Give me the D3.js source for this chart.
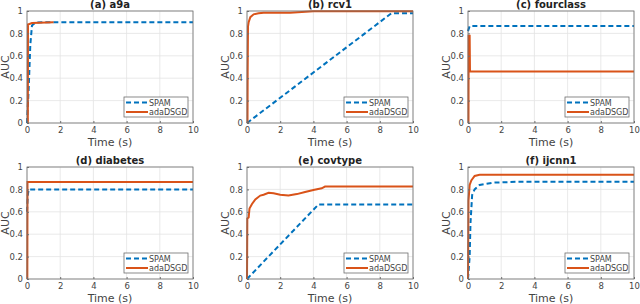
<!DOCTYPE html>
<html>
<head>
<meta charset="utf-8">
<script src="https://cdn.jsdelivr.net/npm/d3@7"></script>
<style>
body{margin:0;background:#fff;}
text{font-family:"DejaVu Sans",sans-serif;}
</style>
</head>
<body>
<script>
// values: [time (s), AUC]
const titles = ["(a) a9a","(b) rcv1","(c) fourclass","(d) diabetes","(e) covtype","(f) ijcnn1"]
const seriesNames = ["SPAM","adaDSGD"]
const xTicks = [0,2,4,6,8,10]
const yTicks = [0,0.2,0.4,0.6,0.8,1]

const a9aSPAM = [[0,0],[0.1,0.3],[0.2,0.7],[0.3,0.87],[0.5,0.895],[1,0.9],[10,0.9]]
const a9aAda = [[0.05,0],[0.06,0.88],[0.3,0.893],[1.6,0.9]]
const rcv1SPAM = [[0,0],[8.7,0.98],[10,0.98]]
const rcv1Ada = [[0.03,0],[0.04,0.45],[0.06,0.86],[0.1,0.9],[0.2,0.945],[0.4,0.97],[0.7,0.98],[1,0.985],[2.6,0.985],[4,0.997],[10,0.997]]
const fourclassSPAM = [[0,0.82],[0.1,0.865],[10,0.865]]
const fourclassAda = [[0.03,0],[0.04,0.78],[0.1,0.78],[0.12,0.46],[10,0.46]]
const diabetesSPAM = [[0,0.6],[0.05,0.75],[0.1,0.8],[10,0.8]]
const diabetesAda = [[0.02,0],[0.03,0.865],[10,0.865]]
const covtypeSPAM = [[0,0],[4.3,0.665],[10,0.665]]
const covtypeAda = [[0,0],[0.02,0.54],[0.1,0.55],[0.15,0.63],[0.3,0.67],[0.5,0.71],[0.8,0.745],[1,0.752],[1.3,0.77],[1.6,0.765],[2,0.752],[2.5,0.745],[3,0.758],[3.5,0.777],[4,0.795],[4.5,0.81],[4.7,0.825],[10,0.825]]
const ijcnn1SPAM = [[0,0],[0.1,0.2],[0.15,0.5],[0.25,0.75],[0.4,0.8],[0.7,0.84],[1.5,0.86],[3,0.868],[10,0.868]]
const ijcnn1Ada = [[0,0],[0.03,0.7],[0.1,0.84],[0.2,0.88],[0.4,0.92],[0.7,0.93],[10,0.93]]

const panels = [
    [a9aSPAM,a9aAda],[rcv1SPAM,rcv1Ada],[fourclassSPAM,fourclassAda],
    [diabetesSPAM,diabetesAda],[covtypeSPAM,covtypeAda],[ijcnn1SPAM,ijcnn1Ada]
]
const colors = ["#0072BD","#D95319"]

const width = 640, height = 304
const svg = d3.select("body").append("svg").attr("width",width).attr("height",height)

const colX = [27,247,468], rowY = [11,167]
const pw = 166, ph = 112

panels.forEach((series,i)=>{
    const g = svg.append("g").attr("transform",`translate(${colX[i%3]},${rowY[Math.floor(i/3)]})`)
    const x = d3.scaleLinear().domain([0,10]).range([0,pw])
    const y = d3.scaleLinear().domain([0,1]).range([ph,0])

    // grid
    g.selectAll(".gx").data(xTicks).join("line")
        .attr("x1",d=>x(d)).attr("x2",d=>x(d)).attr("y1",0).attr("y2",ph)
        .attr("stroke","#e3e3e3").attr("stroke-width",0.8)
    g.selectAll(".gy").data(yTicks).join("line")
        .attr("y1",d=>y(d)).attr("y2",d=>y(d)).attr("x1",0).attr("x2",pw)
        .attr("stroke","#e3e3e3").attr("stroke-width",0.8)

    const line = d3.line().x(d=>x(d[0])).y(d=>y(d[1]))
    series.forEach((s,k)=>{
        g.append("path").datum(s).attr("d",line).attr("fill","none")
            .attr("stroke",colors[k]).attr("stroke-width",2)
            .attr("stroke-dasharray",k===0?"5,3":null)
    })

    // box
    g.append("rect").attr("width",pw).attr("height",ph).attr("fill","none")
        .attr("stroke","#6e6e6e").attr("stroke-width",0.8)

    const xa = g.append("g").attr("transform",`translate(0,${ph})`)
        .call(d3.axisBottom(x).tickValues(xTicks).tickSize(-2).tickPadding(4))
    const ya = g.append("g")
        .call(d3.axisLeft(y).tickValues(yTicks).tickSize(-2).tickPadding(4).tickFormat(d3.format("~g")))
    ;[xa,ya].forEach(a=>{
        a.select(".domain").remove()
        a.selectAll("line").attr("stroke","#6e6e6e")
        a.selectAll("text").attr("fill","#444").style("font-size","8.5px").style("font-family","DejaVu Sans")
    })

    g.append("text").attr("x",pw/2).attr("y",-3).attr("text-anchor","middle")
        .style("font-size","10px").style("font-weight","bold").attr("fill","#222").text(titles[i])
    g.append("text").attr("x",pw/2).attr("y",ph+23).attr("text-anchor","middle")
        .style("font-size","11px").attr("fill","#444").text("Time (s)")
    g.append("text").attr("transform",`translate(-18,${ph/2}) rotate(-90)`).attr("text-anchor","middle")
        .style("font-size","11px").attr("fill","#444").text("AUC")

    // legend
    const lw = 64, lh = 20
    const lg = g.append("g").attr("transform",`translate(${pw-5-lw},${ph-6-lh})`)
    lg.append("rect").attr("width",lw).attr("height",lh).attr("fill","#fff")
        .attr("stroke","#6e6e6e").attr("stroke-width",0.8)
    seriesNames.forEach((n,k)=>{
        const yy = 5.5+k*9.5
        lg.append("line").attr("x1",2).attr("x2",24).attr("y1",yy).attr("y2",yy)
            .attr("stroke",colors[k]).attr("stroke-width",2)
            .attr("stroke-dasharray",k===0?"5,3":null)
        lg.append("text").attr("x",25).attr("y",yy+3).style("font-size","8px")
            .attr("fill","#444").text(n)
    })
})
</script>
</body>
</html>
